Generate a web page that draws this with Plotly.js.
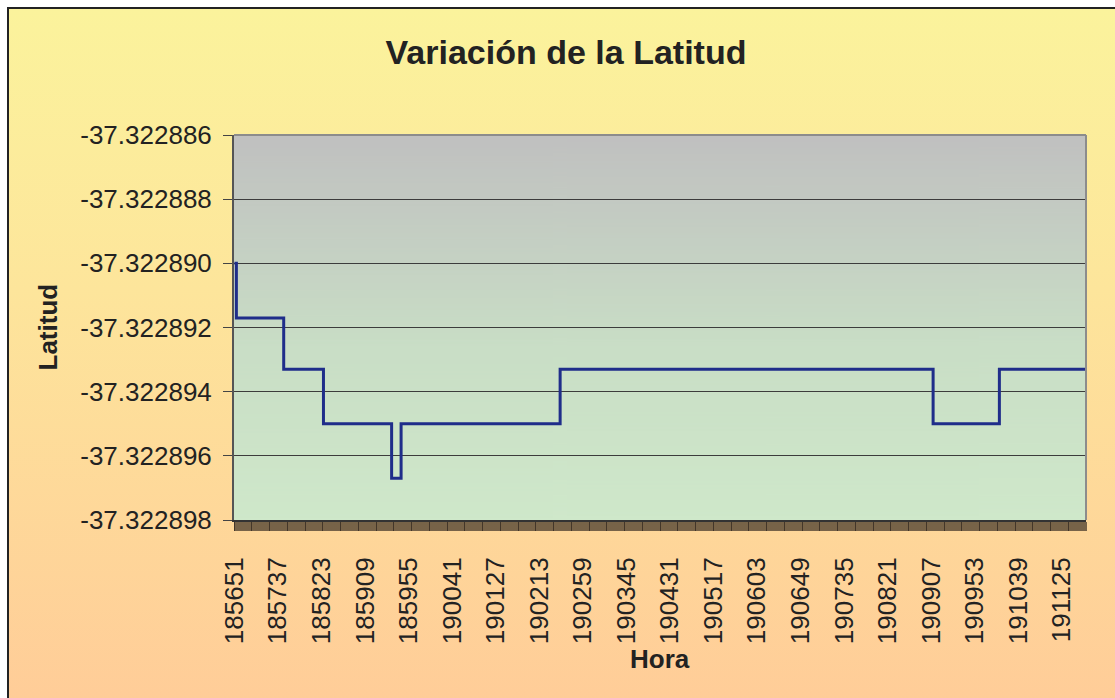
<!DOCTYPE html>
<html><head><meta charset="utf-8">
<script src="https://cdn.plot.ly/plotly-3.0.1.min.js"></script>
<style>
html,body{margin:0;padding:0;background:#fff;}
#wrap{position:relative;width:1115px;height:698px;overflow:hidden;background:#fff;}
#bg{position:absolute;left:7px;top:7px;width:1120px;height:700px;border-left:2px solid #222;border-top:2px solid #222;
 background:linear-gradient(to bottom,#FBF39C 0%,#FDE59B 40%,#FFCC98 100%);}
#chart{position:absolute;left:0;top:0;width:1115px;height:698px;}
</style></head><body>
<div id="wrap"><div id="bg"></div><div id="chart"></div></div>
<script>
// Times (HHMMSS) at which the latitude reading changes, and the reading from that time on
const changeTimes = ['185651','185653','185743','185825','185937','185947','190235','190909','191019','191150'];
const latitudes   = [-37.322890,-37.3228917,-37.3228933,-37.322895,-37.3228967,-37.322895,-37.3228933,-37.322895,-37.3228933,-37.3228933];
const firstTime = '185651';
const lastTime  = '191150';
const xTickLabels = ['185651','185737','185823','185909','185955','190041','190127','190213','190259','190345',
                     '190431','190517','190603','190649','190735','190821','190907','190953','191039','191125'];
const yTickLabels = ['-37.322886','-37.322888','-37.322890','-37.322892','-37.322894','-37.322896','-37.322898'];

function secs(t){return (+t.slice(0,2))*3600+(+t.slice(2,4))*60+(+t.slice(4,6));}
const t0 = secs(firstTime);
const xs = changeTimes.map(t=>secs(t)-t0);
const tickvals = xTickLabels.map(t=>secs(t)-t0);
const yvals = yTickLabels.map(Number);
const xmax = secs(lastTime)-t0;

// plot-area gradient
const cv=document.createElement('canvas'); cv.width=4; cv.height=400;
const g=cv.getContext('2d'); const gr=g.createLinearGradient(0,0,0,400);
gr.addColorStop(0,'#C0C0C0'); gr.addColorStop(0.55,'#C9DEC6'); gr.addColorStop(1,'#CFE8CA');
g.fillStyle=gr; g.fillRect(0,0,4,400);
const bgURL=cv.toDataURL();

const FONT='"Liberation Sans", Arial, sans-serif';
const trace={x:xs,y:latitudes,customdata:changeTimes,type:'scatter',mode:'lines',
  line:{shape:'hv',color:'#1F2D8A',width:3},hovertemplate:'%{customdata}<br>%{y:.7f}<extra></extra>'};

const layout={
  width:1115,height:698,
  paper_bgcolor:'rgba(0,0,0,0)',plot_bgcolor:'rgba(0,0,0,0)',
  margin:{l:234,r:29,t:135,b:178},
  showlegend:false,
  font:{family:FONT,color:'#222'},
  title:{text:'<b>Variación de la Latitud</b>',font:{family:FONT,size:34,color:'#222'},
    xref:'container',yref:'container',x:566/1115,y:1-52/698,xanchor:'center',yanchor:'middle'},
  xaxis:{range:[-0.5,xmax+0.5],tickvals:tickvals,ticktext:xTickLabels,tickangle:-90,
    tickfont:{family:FONT,size:26,color:'#222'},ticks:'outside',ticklen:9,tickcolor:'rgba(0,0,0,0)',tickwidth:1,
    ticklabelstandoff:16,
    minor:{ticks:'outside',ticklen:9,tick0:0.5,dtick:1,tickcolor:'rgba(35,28,22,0.62)',tickwidth:1,showgrid:false},
    showgrid:false,zeroline:false,showline:true,linecolor:'#333',linewidth:2,fixedrange:true},
  yaxis:{range:[yvals[yvals.length-1],yvals[0]],tickvals:yvals,ticktext:yTickLabels,
    tickfont:{family:FONT,size:26,color:'#222'},ticks:'outside',ticklen:9,tickcolor:'#444',tickwidth:1,
    ticklabelstandoff:6,
    showgrid:true,gridcolor:'#3c3c3c',gridwidth:1,zeroline:false,showline:true,linecolor:'#555',linewidth:2,fixedrange:true},
  images:[{source:bgURL,xref:'paper',yref:'paper',x:0,y:1,sizex:1,sizey:1,sizing:'stretch',layer:'below',xanchor:'left',yanchor:'top'}],
  shapes:[
    {type:'line',xref:'paper',yref:'paper',x0:0,x1:1,y0:1,y1:1,line:{color:'#8C8C8C',width:2},layer:'above'},
    {type:'line',xref:'paper',yref:'paper',x0:1,x1:1,y0:0,y1:1,line:{color:'#8C8C8C',width:2},layer:'above'}
  ],
  annotations:[
    {text:'<b>Latitud</b>',xref:'paper',yref:'paper',x:(47-234)/852,y:0.5,textangle:-90,showarrow:false,
     xanchor:'center',yanchor:'middle',font:{family:FONT,size:26,color:'#222'}},
    {text:'<b>Hora</b>',xref:'paper',yref:'paper',x:0.5,y:(520-659)/385,showarrow:false,
     xanchor:'center',yanchor:'middle',font:{family:FONT,size:26,color:'#222'}}
  ]
};
Plotly.newPlot('chart',[trace],layout,{displayModeBar:false,responsive:false});
</script>
</body></html>
